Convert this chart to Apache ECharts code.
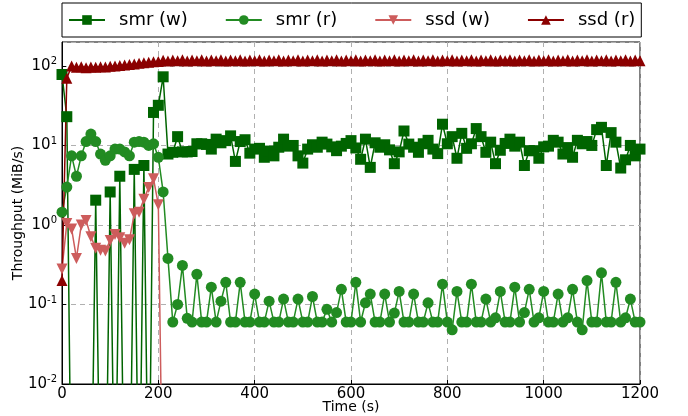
<!DOCTYPE html>
<html>
<head>
<meta charset="utf-8">
<script src="https://cdn.jsdelivr.net/npm/echarts@6/dist/echarts.min.js"></script>
<style>
html, body { margin: 0; padding: 0; background: #fff; }
#chart { width: 688px; height: 416px; }
</style>
</head>
<body>
<div id="chart"></div>
<script>
// samples every 10 s, 0..1200
var times = [];
for (var i = 0; i <= 120; i++) times.push(i * 10);

var seriesNames = ["smr (w)", "smr (r)", "ssd (w)", "ssd (r)"];

// 0 = nothing measured (off the log scale)
var smrW = [
    78, 23, 0, 0, 0, 0, 0, 2.05, 0, 0,
    2.6, 0, 4.1, 0, 0, 5.0, 0, 5.6, 0, 26,
    32, 73, 7.8, 8.2, 12.9, 8.3, 8.3, 8.4, 10.5, 10.5,
    10.3, 9.0, 12, 10.8, 11.5, 13.2, 6.3, 11.2, 11.8, 8.0,
    9.0, 9.2, 7.1, 8.5, 7.4, 9.5, 12, 9.8, 10, 7.4,
    6.0, 9.0, 10.2, 9.5, 11, 10.4, 9.6, 8.6, 9.8, 10.6,
    11.5, 9.3, 6.7, 12, 5.3, 10.8, 9.5, 10.2, 8.8, 5.9,
    8.3, 15.2, 10.4, 9.5, 8.2, 10.5, 11.6, 9.0, 7.9, 18.5,
    10.5, 12.9, 6.9, 14.2, 9.2, 10.5, 16.3, 12.9, 8.2, 11,
    5.9, 8.7, 10.6, 12, 9.8, 11, 5.6, 8.6, 8.6, 6.9,
    9.6, 9.8, 11.6, 11, 7.8, 9.4, 7.1, 11.6, 10.5, 11.2,
    10, 15.8, 16.9, 5.6, 14.5, 11, 5.2, 6.6, 10, 7.4,
    9.0
];

var smrR = [
    1.45, 3.0, 7.4, 4.1, 7.4, 11.2, 13.9, 11.2, 7.8, 6.5,
    7.4, 9.0, 9.0, 8.3, 7.4, 11, 11.2, 11, 10, 10.5,
    7.1, 2.6, 0.38, 0.06, 0.1, 0.31, 0.067, 0.06, 0.24, 0.06,
    0.06, 0.165, 0.06, 0.11, 0.19, 0.06, 0.06, 0.19, 0.06, 0.06,
    0.135, 0.06, 0.06, 0.11, 0.06, 0.06, 0.117, 0.06, 0.06, 0.117,
    0.06, 0.06, 0.126, 0.06, 0.06, 0.087, 0.06, 0.079, 0.155, 0.06,
    0.06, 0.19, 0.06, 0.105, 0.135, 0.06, 0.06, 0.135, 0.06, 0.078,
    0.146, 0.06, 0.06, 0.135, 0.06, 0.06, 0.105, 0.06, 0.06, 0.18,
    0.06, 0.048, 0.146, 0.06, 0.06, 0.18, 0.06, 0.06, 0.117, 0.06,
    0.068, 0.146, 0.06, 0.06, 0.165, 0.06, 0.079, 0.155, 0.06, 0.068,
    0.146, 0.06, 0.06, 0.135, 0.06, 0.068, 0.155, 0.06, 0.048, 0.2,
    0.06, 0.06, 0.25, 0.06, 0.06, 0.19, 0.06, 0.068, 0.117, 0.06,
    0.06
];

var ssdW = [
    0.28, 1.04, 0.89, 0.38, 1.0, 1.14, 0.71, 0.51, 0.48, 0.47,
    0.64, 0.76, 0.69, 0.59, 0.65, 1.38, 1.45, 2.1, 2.97, 3.8,
    1.8, 0, 0, 0, 0, 0, 0, 0, 0, 0,
    0, 0, 0, 0, 0, 0, 0, 0, 0, 0,
    0, 0, 0, 0, 0, 0, 0, 0, 0, 0,
    0, 0, 0, 0, 0, 0, 0, 0, 0, 0,
    0, 0, 0, 0, 0, 0, 0, 0, 0, 0,
    0, 0, 0, 0, 0, 0, 0, 0, 0, 0,
    0, 0, 0, 0, 0, 0, 0, 0, 0, 0,
    0, 0, 0, 0, 0, 0, 0, 0, 0, 0,
    0, 0, 0, 0, 0, 0, 0, 0, 0, 0,
    0, 0, 0, 0, 0, 0, 0, 0, 0, 0,
    0
];

var ssdR = [
    0.2, 70, 100, 96, 98, 95, 97, 96, 98, 97,
    99, 100, 101, 103, 104, 106, 108, 110, 111, 113,
    114, 118, 115, 119, 116, 120, 115, 119, 116, 120,
    115, 119, 116, 120, 115, 119, 116, 120, 115, 119,
    116, 120, 115, 119, 116, 120, 115, 119, 116, 120,
    115, 119, 116, 120, 115, 119, 116, 120, 115, 119,
    116, 120, 115, 119, 116, 120, 115, 119, 116, 120,
    115, 119, 116, 120, 115, 119, 116, 120, 115, 119,
    116, 120, 115, 119, 116, 120, 115, 119, 116, 120,
    115, 119, 116, 120, 115, 119, 116, 120, 115, 119,
    116, 120, 115, 119, 116, 120, 115, 119, 116, 120,
    115, 119, 116, 120, 115, 119, 116, 120, 115, 119,
    116
];

var colors = ["#006400", "#228b22", "#cd5c5c", "#8b0000"];
var symbols = ["rect", "circle", "triangle", "triangle"];
var symbolSizes = [11, 11, 11, 11];
var rotates = [0, 0, 180, 0];

function toPairs(vals) {
    // log axis cannot show 0, push it far below the visible range
    return vals.map(function (v, k) {
        return [times[k], v > 0 ? v : 1e-4];
    });
}

var chart = echarts.init(document.getElementById("chart"), null, { renderer: "canvas" });

var seriesArr = [smrW, smrR, ssdW, ssdR].map(function (vals, k) {
    return {
        name: seriesNames[k],
        type: "line",
        data: toPairs(vals),
        symbol: symbols[k],
        symbolSize: symbolSizes[k],
        symbolRotate: rotates[k],
        showAllSymbol: true,
        clip: true,
        lineStyle: { color: colors[k], width: 1.5 },
        itemStyle: { color: colors[k], borderWidth: 0 }
    };
});

var fontFamily = "DejaVu Sans";

var option = {
    animation: false,
    textStyle: { fontFamily: fontFamily },
    grid: {
        left: 62,
        right: 48,
        top: 42,
        bottom: 32,
        containLabel: false,
        outerBoundsMode: "none",
        show: true,
        borderColor: "#000",
        borderWidth: 1
    },
    legend: {
        top: 3,
        left: 62,
        itemWidth: 36,
        itemHeight: 12,
        itemGap: 37,
        padding: [8, 6, 8, 6],
        borderColor: "#000",
        borderWidth: 1,
        borderRadius: 0,
        textStyle: {
            fontFamily: fontFamily,
            fontSize: 18,
            color: "#000",
            padding: [0, 0, 0, 9]
        },
        data: seriesNames
    },
    xAxis: {
        type: "value",
        min: 0,
        max: 1200,
        interval: 200,
        name: "Time (s)",
        nameLocation: "middle",
        nameGap: 16,
        nameMoveOverlap: false,
        nameTextStyle: { fontSize: 14, color: "#000", verticalAlign: "top" },
        axisLine: { lineStyle: { color: "#000" } },
        axisTick: { inside: true, length: 4, lineStyle: { color: "#000" } },
        axisLabel: {
            color: "#000",
            fontSize: 15,
            margin: 3,
            formatter: function (v) { return String(v); }
        },
        splitLine: { show: true, lineStyle: { color: "#b0b0b0", type: [5, 4] } }
    },
    yAxis: {
        type: "log",
        logBase: 10,
        min: 0.01,
        max: 200,
        name: "Throughput (MiB/s)",
        nameLocation: "middle",
        nameGap: 37,
        nameMoveOverlap: false,
        nameTextStyle: { fontSize: 14, color: "#000" },
        axisLine: { lineStyle: { color: "#000" } },
        axisTick: { inside: true, length: 4, lineStyle: { color: "#000" } },
        axisLabel: {
            color: "#000",
            margin: 5,
            showMaxLabel: false,
            formatter: function (v) {
                var e = Math.round(Math.log(v) / Math.LN10);
                return "{b|10}{e|" + e + "}";
            },
            rich: {
                b: { fontSize: 15, color: "#000", fontFamily: fontFamily },
                e: { fontSize: 10, color: "#000", fontFamily: fontFamily, padding: [0, 0, 9, 0] }
            }
        },
        splitLine: { show: true, lineStyle: { color: "#b0b0b0", type: [5, 4] } }
    },
    series: seriesArr
};

chart.setOption(option);
</script>
</body>
</html>
